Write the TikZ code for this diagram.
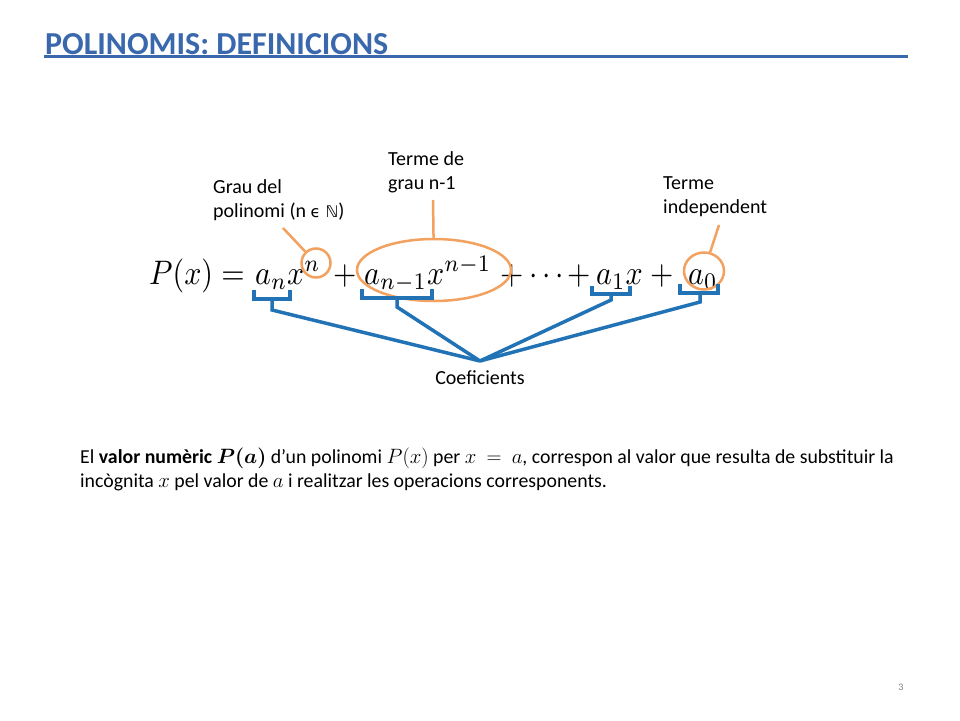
\documentclass[tikz,border=0pt]{standalone}
\usepackage{amsmath,bm}
\usepackage{graphicx}
\usepackage{fontspec}
\setmainfont{Carlito}
\newfontfamily\dejavu{DejaVu Sans}
\usetikzlibrary{shapes.geometric}
\definecolor{titleblue}{HTML}{3A68AC}
\definecolor{orangec}{HTML}{F2A15E}
\definecolor{blueb}{HTML}{2272B6}
\newcommand{\fm}[1]{\scalebox{3.0}[3.4]{$#1$}}
\begin{document}
\begin{tikzpicture}[x=1pt,y=-1pt,
  lbl/.style={font=\fontsize{20}{24.5}\selectfont, align=left, inner sep=0, anchor=north west},
  fmp/.style={anchor=base west, inner sep=0},
  orng/.style={draw=orangec, line width=2.5pt},
  brk/.style={draw=blueb, line width=3.5pt, line join=miter},
  ]
\useasboundingbox[fill=white] (0,0) rectangle (960,720);
% title
\node[anchor=base west, inner sep=0, text=titleblue, font=\bfseries\fontsize{32}{34}\selectfont] (title) at (45,54) {POLINOMIS: DEFINICIONS};
\coordinate (ul1) at (44,56.5);
\coordinate (ul2) at (908,56.5);
\draw[titleblue, line width=3pt] (ul1) -- (ul2);
% formula pieces
\node[fmp] (f0) at (149,284) {\fm{P(x)=}};
\node[fmp] (f1) at (255,284) {\fm{a_n}};
\node[fmp] (f2) at (287,284) {\fm{x^n}};
\node[fmp] (f3) at (333,284) {\fm{+}};
\node[fmp] (f4) at (364,284) {\fm{a_{n-1}}};
\node[fmp] (f5) at (427,284) {\fm{x^{n-1}}};
\node[fmp] (f6) at (500,284) {\fm{+}};
\node[fmp] (f7) at (529,284) {\fm{\cdots}};
\node[fmp] (f8) at (567,284) {\fm{+}};
\node[fmp] (f9) at (596,284) {\fm{a_1x}};
\node[fmp] (f10) at (650,284) {\fm{+}};
\node[fmp] (f11) at (688,284) {\fm{a_0}};
% labels
\node[lbl] (grau) at (213,179) {Grau del\\polinomi (n {\dejavu\fontsize{16}{24}\selectfont ϵ ℕ})};
\node[lbl] (tn1) at (388,151) {Terme de\\grau n-1};
\node[lbl] (tind) at (663,176) {Terme\\independent};
\node[font=\fontsize{20}{22}\selectfont, inner sep=0] (coef) at (480,378) {Coeficients};
% orange marks
\node[orng, circle, minimum size=29pt, inner sep=0] (cn) at (316,263) {};
\node[orng, ellipse, minimum width=154pt, minimum height=62pt, inner sep=0] (ce) at (434,270) {};
\node[orng, ellipse, minimum width=40pt, minimum height=37pt, inner sep=0] (c0) at (704,271) {};
\coordinate (g1) at (283,228);
\coordinate (t1) at (433,200);
\coordinate (i1) at (719,225);
\draw[orng] (g1) -- (cn);
\draw[orng] (t1) -- (ce);
\draw[orng] (i1) -- (c0);
% blue brackets
\coordinate (k) at (480,361);
\draw[brk] (254,290) -- (254,299) -- (290,299) -- (290,290);
\draw[brk] (362,289) -- (362,298) -- (432,298) -- (432,289);
\draw[brk] (592,286) -- (592,294) -- (630,294) -- (630,286);
\draw[brk] (680,284) -- (680,293) -- (718,293) -- (718,284);
\coordinate (b1) at (272,310);
\coordinate (b2) at (397,307);
\coordinate (b3) at (611,300);
\coordinate (b4) at (700,302);
\draw[brk] (272,299) -- (b1) -- (k);
\draw[brk] (397,298) -- (b2) -- (k);
\draw[brk] (611,294) -- (b3) -- (k);
\draw[brk] (700,293) -- (b4) -- (k);
% paragraph
\node[lbl, font=\fontsize{19.8}{24.2}\selectfont] (par) at (80,448) {El \textbf{valor numèric} $\bm{P(a)}$ d’un polinomi $P(x)$ per $x\ =\ a$, correspon al valor que resulta de substituir la\\incògnita $x$ pel valor de $a$ i realitzar les operacions corresponents.};
% page number
\node[text=gray, font=\fontsize{10}{12}\selectfont, inner sep=0] (pg) at (901,687) {3};
\end{tikzpicture}
\end{document}
